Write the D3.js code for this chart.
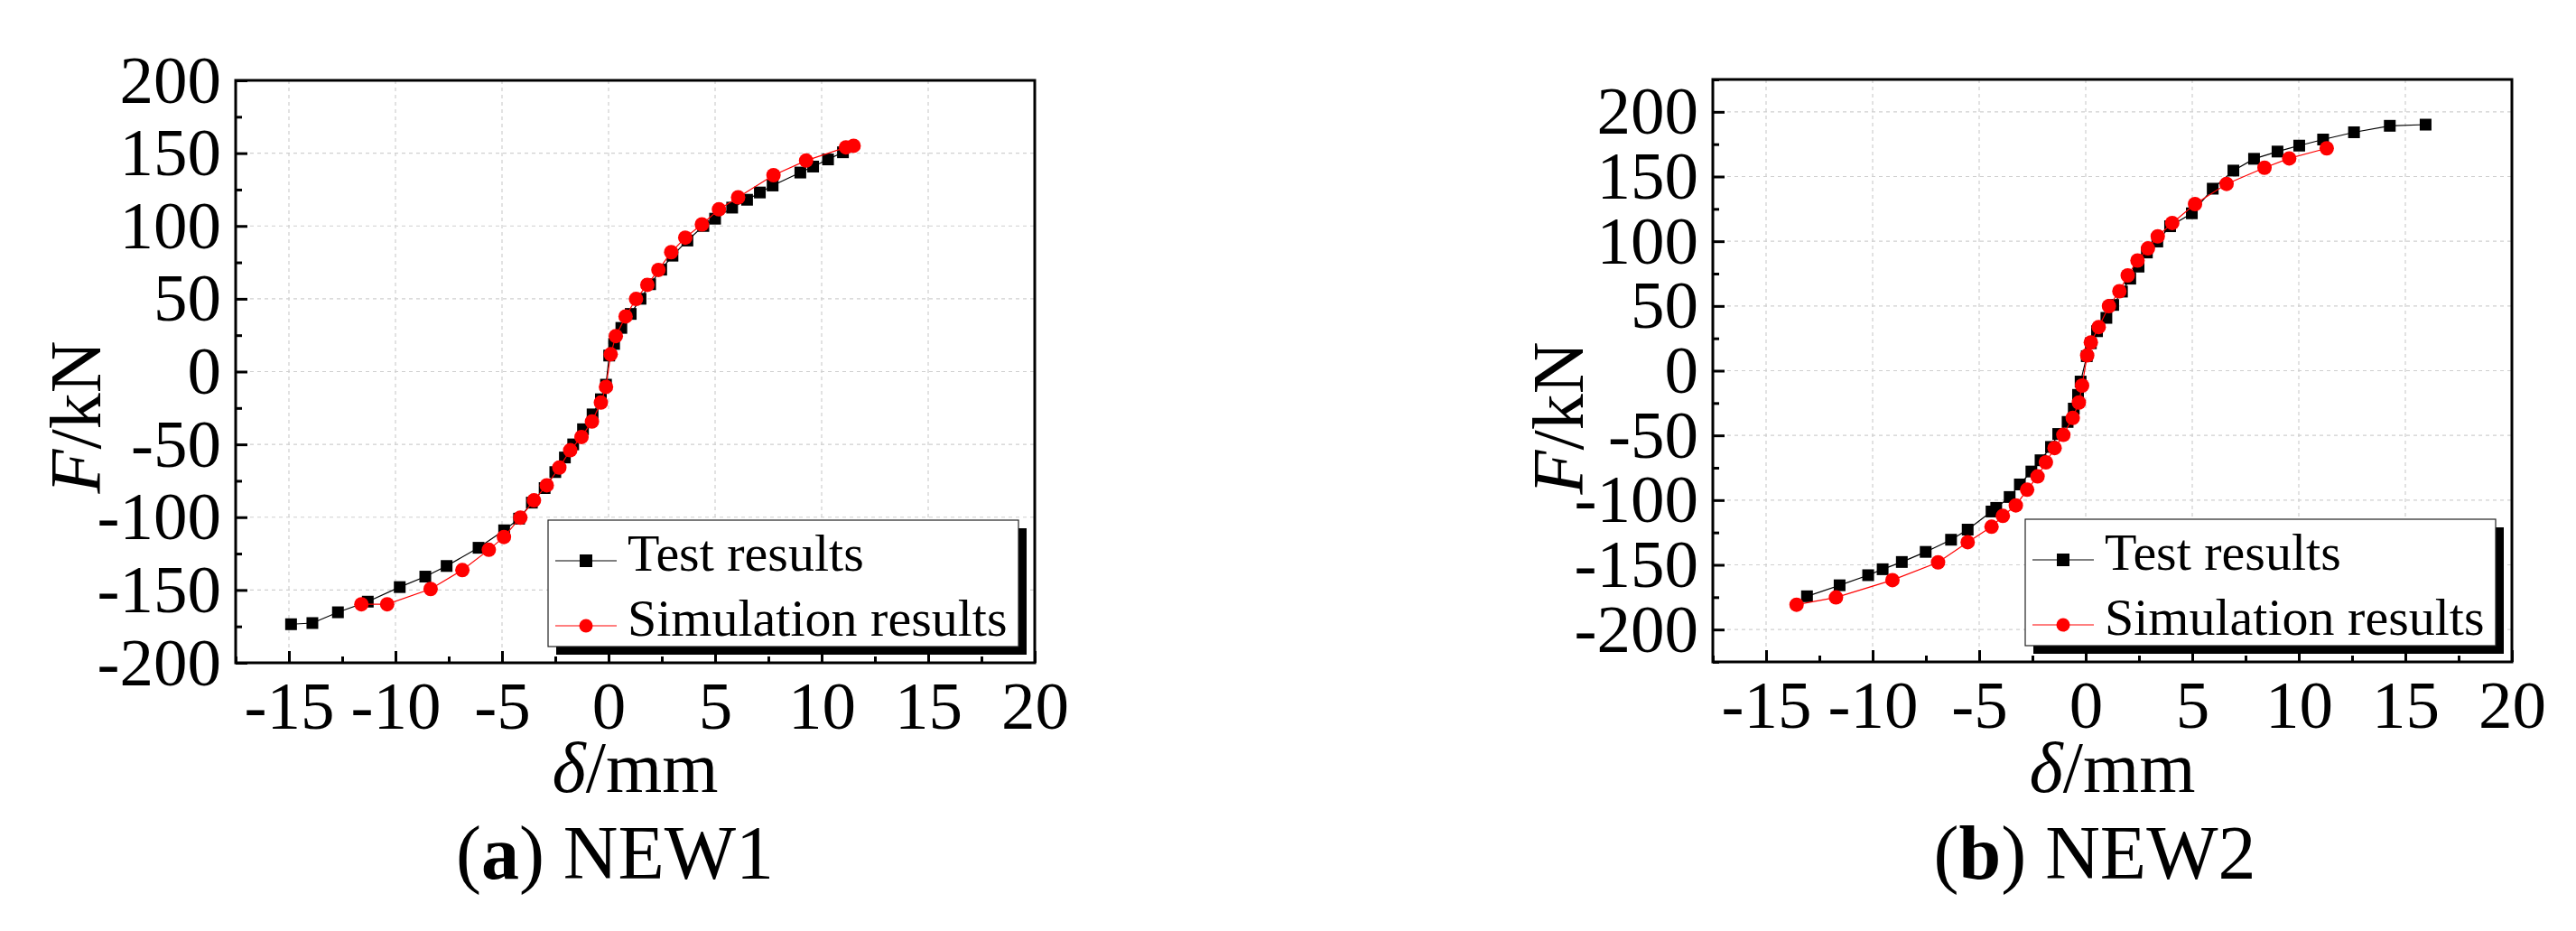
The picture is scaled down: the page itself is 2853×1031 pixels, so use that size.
<!DOCTYPE html>
<html>
<head>
<meta charset="utf-8">
<script src="https://cdn.jsdelivr.net/npm/d3@7"></script>
<style>
  html, body { margin: 0; padding: 0; background: #fff; }
  svg { display: block; }
  text { font-family: "Liberation Serif", "Times New Roman", serif; fill: #000; }
</style>
</head>
<body>
<svg id="chart" width="2853" height="1031"></svg>
<script>
// ---------- data ----------
const xTickValues = [-15, -10, -5, 0, 5, 10, 15, 20];
const yTickValues = [-200, -150, -100, -50, 0, 50, 100, 150, 200];
const seriesNames = ["Test results", "Simulation results"];
const panelCaptions = [["(", "a", ") NEW1"], ["(", "b", ") NEW2"]];

// NEW1 test results (δ mm, F kN)
const new1TestX = [-14.9, -13.9, -12.7, -11.3, -9.8, -8.6, -7.6, -6.1, -4.9, -4.2, -3.6, -3.0, -2.5, -2.05, -1.66, -1.2, -0.75, -0.36, -0.12, 0.03, 0.26, 0.6, 1.04, 1.5, 1.95, 2.47, 3.0, 3.7, 4.45, 5.0, 5.8, 6.5, 7.1, 7.7, 9.0, 9.6, 10.3, 11.0];
const new1TestY = [-173.5, -172.7, -165.3, -158, -148, -140.8, -133.5, -121, -109, -101, -90, -80, -69, -59, -50, -39.6, -29.4, -19, -9, 11, 19, 30, 39.6, 50, 60, 70, 79.6, 90, 100, 105, 112.6, 118, 123, 127.8, 136.7, 140.8, 145.7, 150.6];
// NEW1 simulation results
const new1SimX = [-11.6, -10.39, -8.35, -6.86, -5.62, -4.91, -4.14, -3.5, -2.9, -2.31, -1.8, -1.27, -0.78, -0.36, -0.12, 0.1, 0.34, 0.8, 1.29, 1.82, 2.34, 2.94, 3.6, 4.38, 5.18, 6.08, 7.74, 9.27, 11.14, 11.5];
const new1SimY = [-159.8, -159.8, -149.3, -136.3, -122.4, -113.6, -100.3, -88.4, -78.1, -65.9, -54, -44.9, -34.3, -21.3, -10.5, 11.9, 24.4, 37.9, 49.9, 59.6, 69.8, 82, 92, 101.1, 111.4, 119.7, 134.9, 144.9, 154, 155.1];

// NEW2 test results
const new2TestX = [-13.08, -11.55, -10.21, -9.53, -8.63, -7.51, -6.32, -5.54, -4.42, -4.2, -3.57, -3.09, -2.55, -2.12, -1.63, -1.29, -0.85, -0.56, -0.36, -0.24, 0.05, 0.24, 0.53, 0.97, 1.29, 1.7, 2.09, 2.48, 2.87, 3.36, 3.96, 4.98, 5.96, 6.93, 7.9, 9.0, 10.02, 11.14, 12.59, 14.27, 15.95];
const new2TestY = [-174.3, -165.8, -158, -153.4, -147.8, -140, -130.6, -122.8, -108.8, -106, -97.6, -87.9, -77.9, -69.2, -58.9, -48.9, -39.6, -29.3, -18.7, -8.4, 11.2, 21.2, 30.5, 40.8, 50.8, 61.1, 71.1, 80.4, 91.3, 99.8, 111.6, 121.6, 140.6, 154.6, 163.7, 169.3, 173.9, 178.6, 184.2, 189.2, 190.1];
// NEW2 simulation results
const new2SimX = [-13.57, -11.72, -9.07, -6.93, -5.54, -4.42, -3.89, -3.28, -2.75, -2.26, -1.87, -1.46, -1.05, -0.61, -0.32, -0.17, 0.07, 0.24, 0.61, 1.09, 1.58, 1.97, 2.43, 2.92, 3.38, 4.06, 5.13, 6.61, 8.39, 9.55, 11.31];
const new2SimY = [-180.8, -175.2, -161.8, -148.1, -132.5, -120.6, -112.2, -104.1, -92, -81.7, -70.8, -59.8, -49.6, -36.5, -24.6, -11.5, 11.8, 21.8, 33.7, 49.9, 61.4, 73.6, 85.1, 94.5, 103.8, 114.1, 128.7, 144.3, 156.8, 164, 171.8];

// ---------- drawing ----------
const svg = d3.select("#chart");
svg.append("rect").attr("width", 2853).attr("height", 1031).attr("fill", "#fff");

const zip = (xs, ys) => xs.map((x, i) => ({x, y: ys[i]}));

function panel(cfg) {
  const {left, right, top, bottom, xDomain, yDomain, test, sim, caption, captionX, yTitleX, yTitleY} = cfg;
  const x = d3.scaleLinear().domain(xDomain).range([left, right]);
  const y = d3.scaleLinear().domain(yDomain).range([bottom, top]);
  const g = svg.append("g");

  const xMinor = d3.range(xDomain[0], xDomain[1] + 0.001, 2.5).filter(v => !xTickValues.includes(v));
  const yMinor = d3.range(Math.ceil(yDomain[0] / 25) * 25, yDomain[1] + 0.001, 25).filter(v => !yTickValues.includes(v));

  // grid
  const gridX = xTickValues.filter(v => v > xDomain[0] && v < xDomain[1]);
  const gridY = yTickValues.filter(v => v > yDomain[0] && v < yDomain[1]);
  g.append("g").selectAll("line").data(gridX).join("line")
    .attr("x1", d => x(d)).attr("x2", d => x(d)).attr("y1", top).attr("y2", bottom)
    .attr("stroke", "#cfcfcf").attr("stroke-width", 1.2).attr("stroke-dasharray", "4,4");
  g.append("g").selectAll("line").data(gridY).join("line")
    .attr("y1", d => y(d)).attr("y2", d => y(d)).attr("x1", left).attr("x2", right)
    .attr("stroke", "#cfcfcf").attr("stroke-width", 1.2).attr("stroke-dasharray", "4,4");

  // axes
  const xAxis = d3.axisBottom(x).tickValues(xTickValues).tickSize(-13).tickPadding(20).tickFormat(d3.format("d"));
  const yAxis = d3.axisLeft(y).tickValues(yTickValues.filter(v => v >= yDomain[0] && v <= yDomain[1])).tickSize(-13).tickPadding(16).tickFormat(d3.format("d"));
  const xMinorAxis = d3.axisBottom(x).tickValues(xMinor).tickSize(-7).tickFormat("");
  const yMinorAxis = d3.axisLeft(y).tickValues(yMinor).tickSize(-7).tickFormat("");

  [ [xAxis, "bottom"], [xMinorAxis, "bottom"], [yAxis, "left"], [yMinorAxis, "left"] ].forEach(([ax, pos]) => {
    const a = g.append("g")
      .attr("transform", pos === "bottom" ? `translate(0,${bottom})` : `translate(${left},0)`)
      .call(ax);
    a.select(".domain").remove();
    a.selectAll(".tick line").attr("stroke", "#000").attr("stroke-width", 3);
    a.selectAll(".tick text").attr("font-size", 75).attr("font-family", "'Liberation Serif', 'Times New Roman', serif")
      .text(function() { return d3.select(this).text().replace("−", "-"); });
  });

  // frame
  g.append("rect").attr("x", left).attr("y", top).attr("width", right - left).attr("height", bottom - top)
    .attr("fill", "none").attr("stroke", "#000").attr("stroke-width", 3);

  // series
  const line = d3.line().x(d => x(d.x)).y(d => y(d.y));
  g.append("path").datum(test).attr("d", line).attr("fill", "none").attr("stroke", "#000").attr("stroke-width", 1.2);
  g.append("g").selectAll("rect").data(test).join("rect")
    .attr("x", d => x(d.x) - 6.5).attr("y", d => y(d.y) - 6.5).attr("width", 13).attr("height", 13).attr("fill", "#000");
  g.append("path").datum(sim).attr("d", line).attr("fill", "none").attr("stroke", "#ff0000").attr("stroke-width", 1.2);
  g.append("g").selectAll("circle").data(sim).join("circle")
    .attr("cx", d => x(d.x)).attr("cy", d => y(d.y)).attr("r", 8).attr("fill", "#ff0000");

  // legend
  const lw = 521, lh = 140;
  const lx = right - 18 - lw, ly = bottom - 18 - lh;
  const lg = g.append("g");
  lg.append("rect").attr("x", lx + 9).attr("y", ly + 9).attr("width", lw).attr("height", lh).attr("fill", "#000");
  lg.append("rect").attr("x", lx).attr("y", ly).attr("width", lw).attr("height", lh).attr("fill", "#fff").attr("stroke", "#222").attr("stroke-width", 1.2);
  const rows = [
    {name: seriesNames[0], color: "#000", shape: "square", cy: ly + 45},
    {name: seriesNames[1], color: "#ff0000", shape: "circle", cy: ly + 117}
  ];
  rows.forEach(r => {
    lg.append("line").attr("x1", lx + 8).attr("x2", lx + 76).attr("y1", r.cy).attr("y2", r.cy)
      .attr("stroke", r.color).attr("stroke-width", 1.2);
    if (r.shape === "square") {
      lg.append("rect").attr("x", lx + 42 - 7).attr("y", r.cy - 7).attr("width", 14).attr("height", 14).attr("fill", r.color);
    } else {
      lg.append("circle").attr("cx", lx + 42).attr("cy", r.cy).attr("r", 7.5).attr("fill", r.color);
    }
    lg.append("text").attr("x", lx + 88).attr("y", r.cy + 10.5).attr("font-size", 58).text(r.name);
  });

  // axis titles
  const yt = g.append("text").attr("transform", `translate(${yTitleX},${yTitleY}) rotate(-90)`)
    .attr("text-anchor", "middle").attr("font-size", 80);
  yt.append("tspan").attr("font-style", "italic").text("F");
  yt.append("tspan").text("/kN");

  const xt = g.append("text").attr("x", (left + right) / 2).attr("y", 877)
    .attr("text-anchor", "middle").attr("font-size", 80);
  xt.append("tspan").attr("font-style", "italic").text("δ");
  xt.append("tspan").text("/mm");

  // caption
  const ct = g.append("text").attr("x", captionX).attr("y", 973).attr("text-anchor", "middle").attr("font-size", 84);
  ct.append("tspan").text(caption[0]);
  ct.append("tspan").attr("font-weight", "bold").text(caption[1]);
  ct.append("tspan").text(caption[2]);
}

panel({left: 261, right: 1146, top: 89, bottom: 734, xDomain: [-17.5, 20], yDomain: [-200, 200],
  test: zip(new1TestX, new1TestY), sim: zip(new1SimX, new1SimY), caption: panelCaptions[0], captionX: 681,
  yTitleX: 111, yTitleY: 462});
panel({left: 1897, right: 2782, top: 88, bottom: 733, xDomain: [-17.5, 20], yDomain: [-225, 225],
  test: zip(new2TestX, new2TestY), sim: zip(new2SimX, new2SimY), caption: panelCaptions[1], captionX: 2320,
  yTitleX: 1753, yTitleY: 463});
</script>
</body>
</html>
